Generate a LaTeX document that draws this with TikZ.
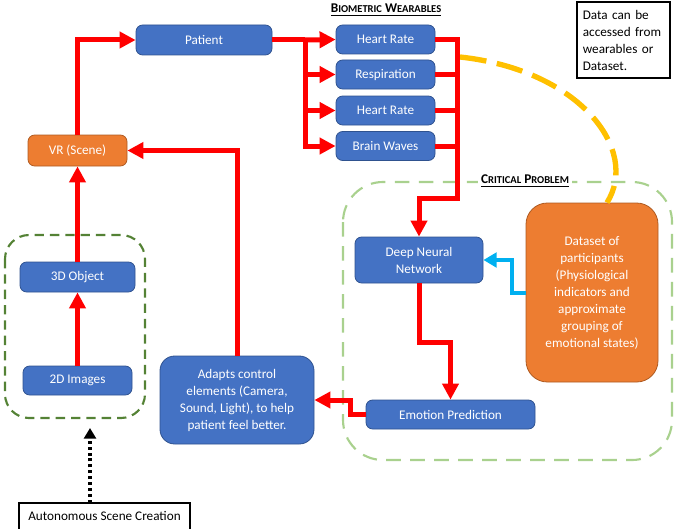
\documentclass[tikz,border=0pt]{standalone}
\usepackage{fontspec}
\setmainfont{Carlito}
\usepackage{xcolor}
\usetikzlibrary{calc}
\usetikzlibrary{arrows.meta}
\usetikzlibrary{positioning}

\definecolor{boxblue}{HTML}{4472C4}
\definecolor{boxblueline}{HTML}{2F528F}
\definecolor{boxorange}{HTML}{ED7D31}
\definecolor{boxorangeline}{HTML}{AE5A21}
\definecolor{darkgreen}{HTML}{548235}
\definecolor{lightgreen}{HTML}{A9D18E}
\definecolor{dashyellow}{HTML}{FFC000}
\definecolor{skyblue}{HTML}{00B0F0}
\newcommand{\smc}[1]{{\fontsize{7.9}{9}\selectfont #1}}

\begin{document}
\begin{tikzpicture}[x=0.75pt,y=-0.75pt]
% 1 = one pixel of the reference
    \def\LINEW{3.75pt} %width of red connectors
    \def\TIPW{12pt}
    \def\TIPL{12pt}

    \tikzset{
      bluebox/.style={draw=boxblueline,fill=boxblue,text=white,
        rounded corners=5pt,line width=0.6pt,align=center,
        font=\fontsize{9.9}{12.75}\selectfont,inner sep=2pt},
      orangebox/.style={bluebox,draw=boxorangeline,fill=boxorange},
      notebox/.style={draw=black,line width=1pt,align=left,
        font=\fontsize{9.9}{12.75}\selectfont,inner sep=4pt},
      redline/.style={draw=red,line width=\LINEW},
      redarrow/.style={redline,
        -{Triangle[width=\TIPW,length=\TIPL]}},
      heading/.style={font=\bfseries\fontsize{10}{11}\selectfont,
        fill=white,inner sep=2pt},
    }

    \useasboundingbox (0,0) rectangle (680,528);

    % GROUPS
    \draw[darkgreen,line width=1.6pt,dash pattern=on 7pt off 4.5pt,
        rounded corners=18pt] (5,235) rectangle (145,418);
    \draw[lightgreen,line width=1.6pt,dash pattern=on 11pt off 7pt,
        rounded corners=30pt] (343,182) rectangle (672,460);

    % WEARABLES
    \node[bluebox,minimum width=102pt,minimum height=22.5pt]
        (patient) at (204,40) {Patient};
    \node[bluebox,minimum width=74.25pt,minimum height=21.75pt]
        (hrone) at (385.5,39.5) {Heart Rate};
    \node[bluebox,minimum width=74.25pt,minimum height=21.75pt]
        (resp) at (385.5,74.5) {Respiration};
    \node[bluebox,minimum width=74.25pt,minimum height=21.75pt]
        (hrtwo) at (385.5,110.5) {Heart Rate};
    \node[bluebox,minimum width=74.25pt,minimum height=21.75pt]
        (brain) at (385.5,146) {Brain Waves};
    \node[heading] (wearhead) at (386,10)
        {\underline{B\smc{IOMETRIC} W\smc{EARABLES}}};

    \node[notebox,minimum width=69.75pt,minimum height=57pt,
        text width=61pt] (note) at (623.5,40)
        {Data can be\\accessed from\\wearables or\\Dataset.};

    % SCENE
    \node[orangebox,minimum width=74.25pt,minimum height=23.25pt]
        (vr) at (77.5,150.5) {VR (Scene)};
    \node[bluebox,minimum width=86.25pt,minimum height=22.5pt]
        (objthreed) at (77.5,277) {3D Object};
    \node[bluebox,minimum width=81.75pt,minimum height=21.75pt]
        (imgtwod) at (77.5,380.5) {2D Images};
    \node[bluebox,rounded corners=11pt,minimum width=115.5pt,
        minimum height=66pt] (adapts) at (237,400)
        {Adapts control\\elements (Camera,\\Sound, Light), to help\\patient feel better.};
    \node[draw=black,line width=0.8pt,minimum width=128.25pt,
        minimum height=25.5pt,font=\fontsize{9.9}{12.75}\selectfont]
        (auto) at (104.5,520)
        {\raisebox{3pt}[\height][\depth]{Autonomous Scene Creation}};
    \coordinate (dottip) at (90,428);

    % CRITICAL PROBLEM
    \node[bluebox,minimum width=96pt,minimum height=34.5pt]
        (dnn) at (419,260) {Deep Neural\\Network};
    \node[orangebox,rounded corners=16pt,minimum width=99pt,
        minimum height=134.25pt] (dataset) at (592,292.5)
        {Dataset of\\participants\\(Physiological\\indicators and\\approximate\\grouping of\\emotional states)};
    \node[bluebox,minimum width=126.75pt,minimum height=21.75pt]
        (emo) at (450.5,414.5) {Emotion Prediction};
    \node[heading] (crithead) at (525,181)
        {\underline{C\smc{RITICAL} P\smc{ROBLEM}}};

    % YELLOW DASHED LINK
    \coordinate (yellowstart) at (460,57);
    \draw[dashyellow,line width=4pt,dash pattern=on 20pt off 8pt]
        (yellowstart) .. controls (580,70) and (640,150) ..
        ($(dataset.north)+(15,0)$);

    % PATIENT TO SENSORS
    \coordinate (split) at (305,40);
    \draw[redline] (patient.east) -- (split);
    \draw[redarrow] (split) -- (hrone.west);
    \draw[redarrow] (split) |- (resp.west);
    \draw[redarrow] (split) |- (hrtwo.west);
    \draw[redarrow] (split) |- (brain.west);

    % SENSORS TO NETWORK
    \coordinate (turn) at (457,198);
    \draw[redline] (resp.east) -- (resp.east -| turn);
    \draw[redline] (hrtwo.east) -- (hrtwo.east -| turn);
    \draw[redline] (brain.east) -- (brain.east -| turn);
    \draw[redarrow] (hrone.east) -| (turn) -| (dnn.north);

    % NETWORK TO PREDICTION
    \coordinate (dnnbend) at (0,342);
    \draw[redarrow] (dnn.south) |- (dnnbend -| emo.north) -- (emo.north);
    \draw[skyblue,line width=3pt,-{Triangle[width=11pt,length=10pt]}]
        (dataset.west) -| (512,280) |- (dnn.east);

    % BACK TO SCENE
    \draw[redarrow] (emo.west) -| (350,408) |- (adapts.east);
    \draw[redarrow] (adapts.north) |- (vr.east);
    \draw[redarrow] (vr.north) |- (patient.west);
    \draw[redarrow] (objthreed.north) -- (vr.south);
    \draw[redarrow] (imgtwod.north) -- (objthreed.south);

    % AUTONOMOUS INPUT
    \draw[line width=2.4pt,dash pattern=on 2.2pt off 2.2pt,
        -{Triangle[width=9pt,length=8pt]}]
        (auto.north -| dottip) -- (dottip);

\end{tikzpicture}
\end{document}
